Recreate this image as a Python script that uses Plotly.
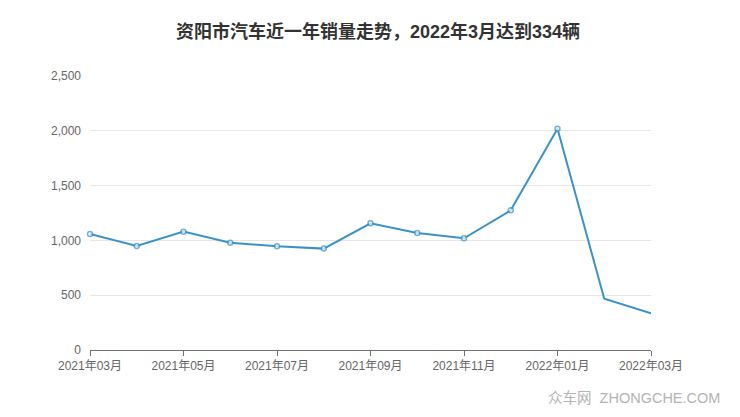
import plotly.graph_objects as go

months = ["2021年03月", "2021年04月", "2021年05月", "2021年06月", "2021年07月", "2021年08月",
          "2021年09月", "2021年10月", "2021年11月", "2021年12月", "2022年01月", "2022年02月", "2022年03月"]
sales = [1058, 949, 1080, 979, 946, 925, 1156, 1067, 1019, 1274, 2019, 468, 334]
tick_labels = ["2021年03月", "2021年05月", "2021年07月", "2021年09月", "2021年11月", "2022年01月", "2022年03月"]

marker_sizes = [5] * (len(sales) - 2) + [0, 0]

fig = go.Figure()
fig.add_trace(go.Scatter(
    x=months, y=sales, mode="lines+markers", cliponaxis=False,
    line=dict(color="#3a93c8", width=2),
    marker=dict(size=marker_sizes, color="white", line=dict(color="#3a93c8", width=1.5)),
    showlegend=False,
))

FONT = "Liberation Sans, Noto Sans CJK SC, sans-serif"
# page body has an 8px default margin; margins compensate so the plot lands at x 90-651, y 76-350
fig.update_layout(
    width=740, height=417,
    margin=dict(l=82, r=97, t=68, b=75),
    paper_bgcolor="white", plot_bgcolor="white",
    font=dict(family=FONT, color="#666666", size=12),
    title=dict(text="<b>资阳市汽车近一年销量走势，2022年3月达到334辆</b>",
               x=0.5, xanchor="center", y=1 - 24 / 417, yanchor="middle",
               font=dict(size=18, color="#333333", family=FONT)),
    xaxis=dict(type="category", categoryorder="array", categoryarray=months,
               range=[0, len(months) - 1], tickvals=tick_labels, ticktext=tick_labels,
               showgrid=False, showline=True, linecolor="#6e7079", linewidth=1,
               ticks="outside", ticklen=5, tickcolor="#6e7079", zeroline=False,
               tickfont=dict(size=12, color="#666666")),
    yaxis=dict(range=[0, 2500], tickvals=[0, 500, 1000, 1500, 2000, 2500],
               ticktext=["0", "500", "1,000", "1,500", "2,000", "2,500"],
               showgrid=True, gridcolor="#e6e6e6", gridwidth=1, zeroline=False,
               showline=False, ticks="", ticklabelstandoff=8,
               tickfont=dict(size=12, color="#666666")),
    annotations=[dict(text="众车网  ZHONGCHE.COM", xref="paper", yref="paper",
                      x=1.0 + 71 / 561, y=-48 / 274, xanchor="right", yanchor="middle",
                      showarrow=False, font=dict(size=14.5, color="#b4b4b4", family=FONT))],
)

fig.write_html("out.html")
